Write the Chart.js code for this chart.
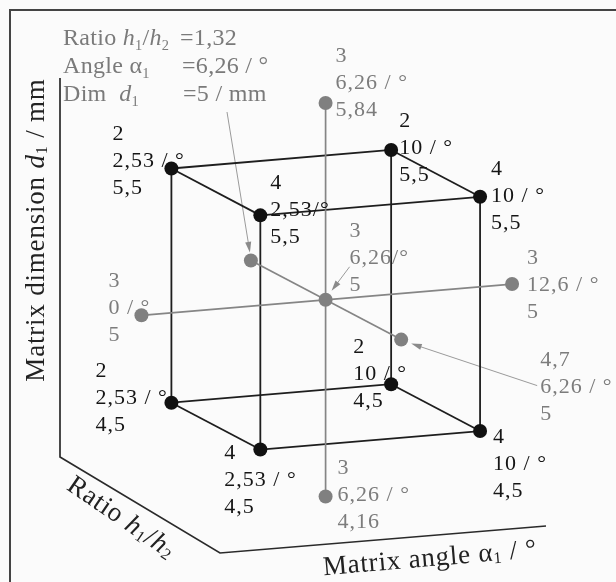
<!DOCTYPE html>
<html>
<head>
<meta charset="utf-8">
<script src="https://cdn.jsdelivr.net/npm/chart.js@4.4.0/dist/chart.umd.min.js"></script>
<style>
  html, body { margin: 0; padding: 0; background: #fbfbfb; }
  canvas { display: block; }
</style>
</head>
<body>
<canvas id="c" width="616" height="582"></canvas>
<script>
// corner runs of the cube
const cubeRatio = [2, 2, 4, 4, 2, 2, 4, 4];
const cubeAngle = [2.53, 10, 2.53, 10, 2.53, 10, 2.53, 10];
const cubeDim = [5.5, 5.5, 5.5, 5.5, 4.5, 4.5, 4.5, 4.5];
// star and centre runs (top, bottom, left, right, centre, back, front)
const starRatio = [3, 3, 3, 3, 3, 1.32, 4.7];
const starAngle = [6.26, 6.26, 0, 12.6, 6.26, 6.26, 6.26];
const starDim = [5.84, 4.16, 5, 5, 5, 5, 5];

const cubeEdges = [[0,1],[0,2],[1,3],[2,3],[4,5],[4,6],[5,7],[6,7],[0,4],[1,5],[2,6],[3,7]];
const starLines = [[0,1],[2,3],[5,6]];

// label offsets from the point: [dx, dy of first line, compact "/°"]
const cubeLabelPos = [[-59,-34,0],[8,-29,0],[10,-32,1],[11,-28,0],[-76,-32,0],[-38,-37,0],[-36,4,0],[13,6,0]];
const starLabelPos = [[10,-47,0],[12,-28,0],[-33,-34,0],[15,-26,0],[24,-69,1],null,[139,21,0]];

const BLACK = '#151515';
const GREY = '#7c7c7c';
const FONT = '"Liberation Serif", "Times New Roman", serif';

// oblique projection of (ratio, angle, dim) onto the page plane
function project(r, a, d) {
  return {
    x: (a - 6.26) * 30.1 + (r - 3) * 45.5,
    y: (a - 6.26) * 2.54 - (r - 3) * 24 + (d - 5) * 240
  };
}

const cubePts = cubeRatio.map((r, i) => project(r, cubeAngle[i], cubeDim[i]));
const starPts = starRatio.map((r, i) => project(r, starAngle[i], starDim[i]));

const fmt = v => String(v).replace('.', ',');

function setFont(ctx, size, italic) {
  ctx.font = (italic ? 'italic ' : '') + size + 'px ' + FONT;
}
function richWidth(ctx, parts, size) {
  let w = 0;
  for (const p of parts) {
    setFont(ctx, p.sub ? size * 0.6 : size, p.i);
    w += ctx.measureText(p.t).width;
  }
  return w;
}
function rich(ctx, parts, x, y, size) {
  for (const p of parts) {
    setFont(ctx, p.sub ? size * 0.6 : size, p.i);
    ctx.fillText(p.t, x, y + (p.sub ? size * 0.2 : 0));
    x += ctx.measureText(p.t).width;
  }
  return x;
}
function arrow(ctx, x1, y1, x2, y2) {
  const ang = Math.atan2(y2 - y1, x2 - x1);
  ctx.beginPath();
  ctx.moveTo(x1, y1);
  ctx.lineTo(x2 - 6 * Math.cos(ang), y2 - 6 * Math.sin(ang));
  ctx.stroke();
  ctx.beginPath();
  ctx.moveTo(x2, y2);
  ctx.lineTo(x2 - 11 * Math.cos(ang - 0.28), y2 - 11 * Math.sin(ang - 0.28));
  ctx.lineTo(x2 - 11 * Math.cos(ang + 0.28), y2 - 11 * Math.sin(ang + 0.28));
  ctx.closePath();
  ctx.fill();
}

const datasets = [];
cubeEdges.forEach(([a, b]) => datasets.push({
  data: [cubePts[a], cubePts[b]], showLine: true, borderColor: '#1e1e1e', borderWidth: 1.8,
  pointRadius: 0, order: 2
}));
starLines.forEach(([a, b]) => datasets.push({
  data: [starPts[a], starPts[b]], showLine: true, borderColor: '#858585', borderWidth: 1.7,
  pointRadius: 0, order: 1
}));
datasets.push({
  data: starPts, pointRadius: 7, pointBackgroundColor: '#808080', pointBorderWidth: 0, order: 0
});
datasets.push({
  data: cubePts, pointRadius: 7, pointBackgroundColor: '#111', pointBorderWidth: 0, order: 0
});

const decor = {
  id: 'decor',
  beforeDatasetsDraw(chart) {
    const ctx = chart.ctx;
    const xs = chart.scales.x, ys = chart.scales.y;
    const px = p => [xs.getPixelForValue(p.x), ys.getPixelForValue(p.y)];
    ctx.save();
    // frame
    ctx.strokeStyle = '#444';
    ctx.lineWidth = 2;
    ctx.beginPath();
    ctx.moveTo(10, 582); ctx.lineTo(10, 10); ctx.lineTo(616, 10);
    ctx.stroke();
    // axis lines
    ctx.strokeStyle = '#2a2a2a';
    ctx.lineWidth = 1.7;
    ctx.beginPath();
    ctx.moveTo(60, 78); ctx.lineTo(60, 457); ctx.lineTo(220, 553); ctx.lineTo(546, 526);
    ctx.stroke();
    // arrows
    ctx.strokeStyle = '#9a9a9a';
    ctx.fillStyle = '#8a8a8a';
    ctx.lineWidth = 1;
    const [bx, by] = px(starPts[5]);
    arrow(ctx, 227, 112, bx - 1, by - 8);
    const [cx, cy] = px(starPts[4]);
    arrow(ctx, cx + 24, cy - 33, cx + 6, cy - 9);
    const [fx, fy] = px(starPts[6]);
    arrow(ctx, fx + 136, fy + 46, fx + 10, fy + 4);
    ctx.restore();
  },
  afterDatasetsDraw(chart) {
    const ctx = chart.ctx;
    const xs = chart.scales.x, ys = chart.scales.y;
    const px = p => [xs.getPixelForValue(p.x), ys.getPixelForValue(p.y)];
    ctx.save();
    ctx.textBaseline = 'middle';
    ctx.textAlign = 'left';
    ctx.letterSpacing = '1px';
    const LS = 27, SZ = 22;
    const label = (p, pos, r, a, d, color) => {
      const [x, y] = px(p);
      ctx.fillStyle = color;
      setFont(ctx, SZ, false);
      const lines = [fmt(r), fmt(a) + (pos[2] ? '/°' : ' / °'), fmt(d)];
      lines.forEach((t, k) => ctx.fillText(t, x + pos[0], y + pos[1] + k * LS));
    };
    cubePts.forEach((p, i) => label(p, cubeLabelPos[i], cubeRatio[i], cubeAngle[i], cubeDim[i], BLACK));
    starPts.forEach((p, i) => {
      if (starLabelPos[i]) label(p, starLabelPos[i], starRatio[i], starAngle[i], starDim[i], GREY);
    });

    // settings of the back run, written as a legend
    ctx.textBaseline = 'alphabetic';
    ctx.fillStyle = '#7a7a7a';
    ctx.letterSpacing = '0.3px';
    const LG = 24;
    rich(ctx, [{t: 'Ratio '}, {t: 'h', i: 1}, {t: '1', sub: 1}, {t: '/'}, {t: 'h', i: 1}, {t: '2', sub: 1}], 63, 45, LG);
    rich(ctx, [{t: '=' + fmt(starRatio[5])}], 180, 45, LG);
    rich(ctx, [{t: 'Angle α'}, {t: '1', sub: 1}], 63, 73, LG);
    rich(ctx, [{t: '=' + fmt(starAngle[5]) + ' / °'}], 182, 73, LG);
    rich(ctx, [{t: 'Dim  '}, {t: 'd', i: 1}, {t: '1', sub: 1}], 63, 101, LG);
    rich(ctx, [{t: '=' + fmt(starDim[5]) + ' / mm'}], 183, 101, LG);

    // axis titles
    ctx.fillStyle = '#222';
    ctx.letterSpacing = '0.8px';
    const AX = 27;
    const drawRot = (parts, x, y, rot) => {
      ctx.save();
      ctx.translate(x, y);
      ctx.rotate(rot);
      ctx.textBaseline = 'middle';
      const w = richWidth(ctx, parts, AX);
      rich(ctx, parts, -w / 2, 0, AX);
      ctx.restore();
    };
    drawRot([{t: 'Matrix dimension '}, {t: 'd', i: 1}, {t: '1', sub: 1}, {t: ' / mm'}], 37, 230, -Math.PI / 2);
    drawRot([{t: 'Ratio '}, {t: 'h', i: 1}, {t: '1', sub: 1}, {t: '/'}, {t: 'h', i: 1}, {t: '2', sub: 1}], 121, 518, 0.6);
    drawRot([{t: 'Matrix angle α'}, {t: '1', sub: 1}, {t: ' / °'}], 430, 559, -0.085);
    ctx.restore();
  }
};

new Chart(document.getElementById('c'), {
  type: 'scatter',
  data: { datasets },
  options: {
    responsive: false,
    animation: false,
    devicePixelRatio: 1,
    layout: { padding: 0 },
    events: [],
    clip: false,
    plugins: { legend: { display: false }, tooltip: { enabled: false } },
    scales: {
      x: { display: false, min: -326, max: 290 },
      y: { display: false, min: -282, max: 300 }
    }
  },
  plugins: [decor]
});
</script>
</body>
</html>
